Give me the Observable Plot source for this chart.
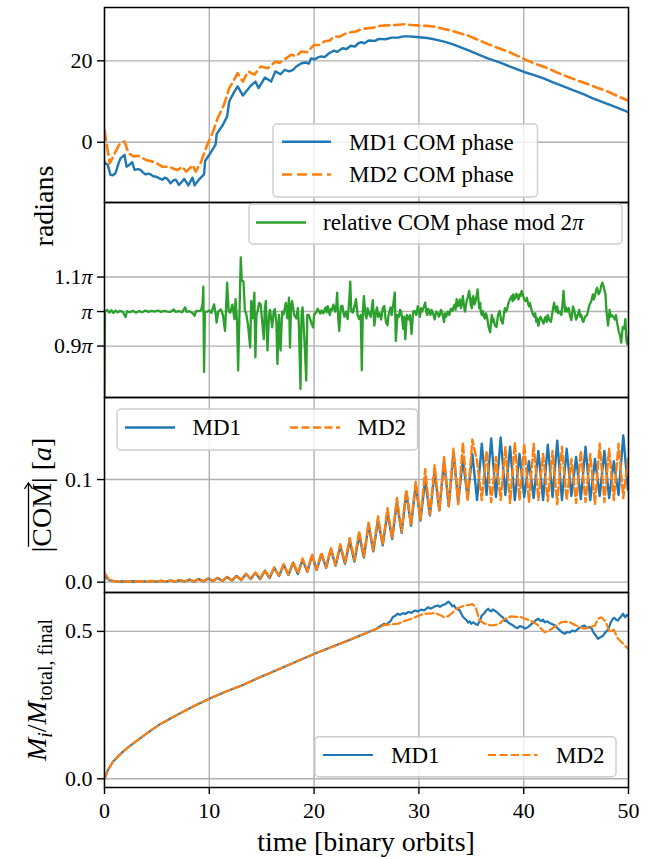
<!DOCTYPE html>
<html><head><meta charset="utf-8">
<script src="https://cdn.jsdelivr.net/npm/d3@7"></script>
<script src="https://cdn.jsdelivr.net/npm/@observablehq/plot@0.6"></script>
<style>
body{margin:0;background:#fff;}
#wrap{position:relative;width:650px;height:859px;background:#fff;}
#wrap svg{position:absolute;left:0;overflow:visible;}
</style></head><body><div id="wrap"></div>
<script>
// ---------------- DATA ----------------
const xTicks = [0, 10, 20, 30, 40, 50];

// Panel 1: COM phase [radians]  ([time, value])
const phaseMD1 = [[0,-4.8],[0.1,-5.2],[0.3,-5.5],[0.57,-8.0],[0.8,-8.1],[1.05,-7.6],[1.3,-5.5],[1.53,-3.9],[1.75,-3.5],[1.91,-3.1],[2.1,-6.0],[2.35,-5.6],[2.64,-4.9],[2.87,-6.8],[3.2,-6.6],[3.44,-6.8],[3.7,-7.5],[3.92,-7.9],[4.2,-7.7],[4.4,-7.9],[4.7,-8.4],[4.9,-8.4],[5.2,-8.8],[5.5,-9.2],[5.75,-8.7],[6.0,-9.0],[6.3,-10.1],[6.55,-9.4],[6.8,-9.2],[7.1,-10.5],[7.35,-9.8],[7.6,-9.0],[8.0,-10.6],[8.4,-8.7],[8.6,-10.6],[9.0,-9.2],[9.5,-7.9],[9.6,-4.6],[10.1,-2.7],[10.6,-0.6],[10.7,2.0],[11.3,4.3],[11.7,6.3],[11.9,10.0],[12.3,12.0],[12.7,13.7],[13.2,11.5],[13.9,13.7],[14.4,14.9],[14.7,13.3],[15.3,15.9],[15.9,14.9],[16.3,17.4],[16.8,16.7],[17.2,17.8],[17.6,17.4],[18.0,17.8],[18.3,18.6],[18.8,19.4],[19.2,19.6],[19.5,19.3],[19.7,20.6],[20.1,20.4],[20.4,20.9],[20.7,21.1],[21.0,20.9],[21.4,21.8],[21.9,22.5],[22.2,22.2],[22.7,23.1],[23.1,22.9],[23.5,23.7],[23.9,23.5],[24.2,24.3],[24.5,24.6],[24.8,24.3],[25.2,25.0],[25.8,24.9],[26.2,25.4],[26.8,25.3],[27.4,25.7],[28.0,25.7],[28.5,26.0],[29.0,26.0],[29.5,25.9],[30.0,25.8],[30.8,25.6],[31.6,25.2],[32.4,24.7],[33.2,24.1],[34.0,23.3],[34.8,22.5],[35.7,21.5],[36.7,20.5],[37.7,19.6],[38.7,18.6],[40.1,17.2],[41.0,16.5],[41.9,15.7],[42.8,14.7],[43.8,13.7],[44.7,12.8],[45.7,11.8],[46.6,10.8],[47.6,9.8],[48.8,8.6],[50,7.4]];
const phaseMD2 = [[0,3.0],[0.5,-5.2],[0.9,-3.1],[1.4,-0.6],[1.9,0.2],[2.3,-2.7],[2.8,-3.5],[3.2,-3.3],[3.6,-3.9],[4.0,-4.4],[4.4,-4.6],[5.0,-5.2],[5.5,-6.0],[6.2,-6.0],[6.6,-6.5],[7.0,-6.8],[7.4,-6.0],[7.8,-7.2],[8.1,-6.5],[8.4,-5.6],[8.7,-7.2],[9.2,-4.9],[9.8,-0.6],[10.3,2.2],[10.8,5.9],[11.4,9.2],[11.9,13.3],[12.3,15.0],[12.7,17.0],[13.2,14.9],[13.7,17.4],[14.3,16.6],[14.9,18.6],[15.6,18.2],[16.3,19.8],[16.7,19.5],[17.1,20.2],[17.8,21.5],[18.3,21.2],[18.8,22.3],[19.3,22.1],[19.7,23.1],[20.0,23.9],[20.5,23.9],[21.0,24.8],[21.5,25.0],[21.9,26.0],[22.4,25.9],[23.0,26.7],[23.5,27.0],[24.0,27.2],[24.5,27.8],[25.1,28.0],[25.6,28.1],[26.3,28.6],[27.0,28.7],[27.8,28.8],[28.6,29.0],[29.3,28.8],[29.9,28.7],[30.7,28.6],[31.5,28.4],[32.3,27.9],[33.1,27.4],[33.9,26.8],[34.7,26.2],[35.6,25.2],[36.6,24.1],[37.5,23.2],[38.5,22.3],[39.5,21.1],[40.4,20.0],[41.3,19.1],[42.3,18.2],[43.2,17.1],[44.2,16.1],[45.1,15.2],[46.1,14.3],[47.0,13.4],[48.0,12.5],[48.9,11.4],[50,10.2]];
const phaseTicks = [0, 20];

// Panel 2: relative COM phase mod 2π, in units of π
const relPhase = [[0,0.75],[0.05,1.0],[0.25,1.005],[0.45,0.997],[0.65,1.004],[0.85,0.996],[1.05,1.003],[1.25,0.998],[1.5,1.002],[1.75,0.999],[2.0,0.984],[2.15,1.001],[2.4,0.998],[2.7,1.002],[3.0,0.997],[3.3,1.001],[3.6,0.998],[3.9,1.003],[4.2,0.999],[4.5,1.002],[4.8,1.0],[5.1,1.003],[5.4,0.999],[5.7,1.002],[6.0,1.0],[6.3,0.999],[6.6,1.006],[6.8,0.999],[7.1,1.001],[7.4,0.998],[7.7,1.012],[7.85,0.999],[8.1,1.001],[8.4,0.996],[8.6,0.988],[8.75,1.002],[9.0,1.001],[9.2,1.003],[9.35,1.02],[9.43,1.072],[9.5,0.825],[9.58,0.998],[9.8,1.0],[10.0,1.003],[10.2,0.996],[10.45,1.021],[10.6,0.995],[10.7,0.968],[10.85,1.0],[11.1,1.006],[11.3,0.99],[11.5,0.944],[11.6,1.01],[11.7,1.084],[11.85,1.0],[12.0,0.997],[12.2,1.02],[12.4,0.978],[12.5,1.036],[12.65,0.97],[12.75,0.829],[12.9,1.02],[13.0,1.157],[13.1,1.09],[13.26,1.088],[13.4,1.0],[13.5,0.998],[13.7,0.96],[13.9,0.896],[14.0,1.031],[14.15,0.98],[14.3,1.055],[14.4,0.867],[14.5,0.99],[14.6,1.0],[14.75,1.025],[14.9,1.021],[15.05,0.97],[15.2,0.92],[15.3,1.01],[15.4,1.031],[15.55,0.887],[15.7,0.99],[15.8,1.005],[16.0,0.954],[16.15,1.0],[16.25,1.007],[16.4,0.97],[16.5,0.848],[16.65,0.99],[16.8,0.887],[16.95,1.0],[17.1,0.992],[17.3,1.025],[17.45,0.98],[17.6,1.04],[17.7,0.896],[17.8,1.02],[17.9,1.03],[18.1,0.99],[18.3,0.98],[18.45,1.01],[18.55,0.96],[18.7,0.776],[18.8,0.99],[18.9,1.012],[19.0,0.96],[19.1,0.904],[19.25,0.80],[19.35,0.99],[19.5,0.99],[19.7,0.97],[19.9,0.954],[20.0,0.99],[20.2,0.998],[20.35,1.008],[20.45,1.002],[20.6,0.994],[20.7,1.003],[20.9,0.995],[21.0,1.006],[21.1,1.012],[21.2,0.998],[21.3,1.016],[21.4,1.002],[21.5,0.99],[21.6,1.008],[21.7,1.005],[21.85,1.02],[22.0,1.0],[22.1,1.01],[22.2,1.055],[22.3,0.98],[22.4,0.944],[22.55,1.015],[22.7,1.017],[22.8,0.996],[22.9,0.985],[23.05,1.0],[23.2,0.978],[23.35,1.03],[23.45,1.087],[23.55,1.0],[23.7,0.997],[23.85,1.015],[24.0,1.036],[24.15,0.99],[24.3,0.978],[24.45,0.99],[24.55,0.83],[24.65,1.0],[24.75,1.045],[24.9,0.99],[25.0,0.98],[25.1,1.01],[25.2,1.0],[25.3,0.99],[25.4,0.985],[25.5,1.01],[25.6,1.033],[25.75,0.959],[25.9,1.0],[26.0,1.012],[26.1,0.985],[26.25,0.995],[26.4,0.977],[26.55,1.01],[26.7,1.016],[26.85,0.97],[27.0,0.96],[27.1,0.99],[27.2,1.0],[27.3,1.012],[27.4,0.99],[27.55,1.02],[27.7,1.055],[27.8,0.915],[27.95,0.99],[28.1,0.985],[28.2,1.005],[28.3,1.0],[28.4,0.98],[28.5,0.95],[28.6,0.985],[28.7,0.92],[28.85,0.99],[29.0,0.977],[29.15,0.99],[29.3,0.935],[29.45,1.0],[29.6,1.002],[29.75,0.99],[29.9,1.016],[30.0,1.0],[30.1,0.985],[30.2,1.01],[30.3,1.0],[30.45,1.012],[30.6,1.026],[30.7,1.0],[30.8,0.99],[30.9,1.008],[31.0,1.0],[31.1,0.99],[31.2,1.005],[31.35,0.995],[31.5,0.977],[31.65,1.0],[31.8,0.995],[31.9,0.985],[32.0,0.99],[32.1,1.005],[32.2,1.0],[32.3,0.985],[32.4,0.97],[32.5,0.995],[32.6,0.985],[32.75,1.0],[32.9,0.99],[33.05,1.008],[33.2,1.002],[33.3,1.012],[33.4,1.02],[33.5,1.005],[33.6,1.036],[33.7,1.015],[33.8,1.02],[33.9,1.035],[34.0,1.01],[34.1,1.025],[34.2,1.045],[34.3,1.015],[34.4,1.0],[34.55,1.03],[34.65,1.04],[34.8,1.06],[34.95,1.02],[35.05,1.01],[35.1,1.038],[35.2,1.045],[35.3,1.02],[35.4,1.03],[35.5,1.045],[35.6,1.064],[35.75,1.01],[35.85,1.025],[35.9,1.0],[36.0,0.99],[36.1,1.002],[36.2,0.985],[36.3,0.98],[36.4,0.995],[36.5,0.985],[36.65,0.955],[36.8,0.94],[36.95,0.99],[37.05,0.97],[37.1,0.98],[37.25,0.96],[37.4,0.955],[37.55,0.99],[37.7,1.002],[37.85,0.975],[38.0,0.965],[38.1,0.99],[38.2,1.01],[38.3,1.0],[38.4,1.005],[38.55,1.025],[38.7,1.036],[38.85,1.045],[38.95,1.03],[39.0,1.05],[39.1,1.035],[39.2,1.04],[39.3,1.052],[39.4,1.045],[39.5,1.035],[39.6,1.05],[39.7,1.045],[39.8,1.06],[39.95,1.045],[40.05,1.035],[40.2,1.03],[40.3,1.04],[40.4,1.026],[40.5,1.015],[40.6,1.025],[40.7,1.01],[40.8,1.0],[40.9,0.99],[41.0,0.985],[41.1,0.995],[41.2,0.97],[41.3,0.98],[41.4,0.959],[41.5,0.975],[41.6,0.985],[41.75,0.975],[41.9,0.965],[42.0,0.98],[42.1,0.985],[42.2,0.97],[42.3,0.99],[42.45,0.975],[42.6,0.97],[42.75,1.0],[42.9,1.026],[43.0,1.01],[43.1,1.0],[43.2,1.015],[43.3,0.995],[43.45,1.0],[43.6,0.99],[43.7,1.02],[43.8,1.06],[43.95,1.0],[44.05,1.012],[44.15,1.0],[44.3,1.01],[44.4,0.99],[44.55,0.975],[44.7,1.015],[44.85,1.0],[45.0,0.977],[45.15,0.99],[45.3,1.005],[45.4,0.985],[45.5,0.99],[45.6,0.975],[45.7,0.97],[45.85,0.985],[46.05,0.99],[46.2,1.01],[46.3,1.021],[46.45,1.03],[46.6,1.05],[46.7,1.035],[46.8,1.045],[46.9,1.06],[47.0,1.069],[47.15,1.05],[47.3,1.06],[47.4,1.075],[47.5,1.084],[47.65,1.07],[47.8,1.05],[47.9,1.0],[48.05,0.959],[48.2,1.005],[48.3,0.985],[48.4,0.99],[48.55,0.985],[48.7,0.977],[48.8,0.99],[48.9,0.97],[49.05,0.945],[49.2,0.93],[49.3,0.91],[49.45,0.955],[49.6,0.95],[49.7,0.978],[49.8,0.915],[49.9,0.905],[50.0,0.925]];
const relTicks = [0.9, 1.0, 1.1];
const relTickLabels = ["0.9π", "π", "1.1π"];

// Panel 3: |COM| [a], sampled every 0.45 orbits
const comStep = 0.45;
const comMD1 = [0.006,0.002,0.001,0.0005,0.0008,0.0005,0.0008,0.0005,0.001,0.0005,0.001,0.0005,0.0012,0.0005,0.0015,0.0005,0.002,0.0005,0.0025,0.0005,0.003,0.0008,0.0035,0.001,0.004,0.001,0.005,0.0015,0.006,0.002,0.008,0.003,0.009,0.003,0.011,0.004,0.014,0.006,0.017,0.007,0.019,0.008,0.022,0.01,0.026,0.012,0.027,0.014,0.032,0.016,0.035,0.018,0.04,0.02,0.046,0.024,0.056,0.03,0.06,0.036,0.068,0.042,0.078,0.048,0.088,0.055,0.095,0.06,0.1,0.065,0.108,0.07,0.118,0.074,0.127,0.078,0.12,0.082,0.125,0.08,0.135,0.085,0.14,0.083,0.141,0.085,0.132,0.08,0.125,0.083,0.118,0.082,0.128,0.08,0.134,0.083,0.138,0.08,0.13,0.084,0.122,0.081,0.132,0.08,0.12,0.084,0.128,0.082,0.118,0.085,0.143,0.09];
const comMD2 = [0.009,0.002,0.001,0.0005,0.0008,0.0005,0.0009,0.0005,0.001,0.0005,0.0011,0.0005,0.0013,0.0005,0.0016,0.0006,0.0022,0.0006,0.0027,0.0007,0.0032,0.0009,0.0037,0.0011,0.0043,0.0012,0.0053,0.0016,0.0065,0.0022,0.0082,0.0032,0.0095,0.0035,0.0118,0.0045,0.0145,0.0062,0.0175,0.0072,0.0198,0.0085,0.023,0.0105,0.027,0.0125,0.029,0.0145,0.0335,0.0165,0.037,0.019,0.043,0.021,0.05,0.025,0.058,0.031,0.064,0.037,0.072,0.043,0.082,0.049,0.09,0.056,0.098,0.061,0.11,0.066,0.114,0.07,0.122,0.074,0.13,0.076,0.136,0.079,0.139,0.118,0.08,0.128,0.078,0.122,0.08,0.132,0.077,0.136,0.08,0.135,0.078,0.135,0.08,0.125,0.079,0.128,0.076,0.132,0.08,0.12,0.077,0.128,0.078,0.125,0.076,0.135,0.078,0.13,0.08,0.135,0.082,0.12];
const comTicks = [0.0, 0.1];

// Panel 4: M_i / M_total,final
const massEarly = [[0,0.0],[0.33,0.03],[0.8,0.058],[1.6,0.087],[2.4,0.111],[3.2,0.132],[4.2,0.158],[5.2,0.183],[6.2,0.203],[7.2,0.222],[8.6,0.248],[10.1,0.273],[11.6,0.296],[13.2,0.318],[14.5,0.339],[15.9,0.361],[18.0,0.393],[20.1,0.425],[21.6,0.446],[23.1,0.467],[24.8,0.492],[25.9,0.508]];
const massMD1Late = [[26.7,0.526],[26.9,0.522],[27.1,0.53],[27.3,0.535],[27.5,0.548],[27.7,0.552],[28.0,0.56],[28.2,0.556],[28.5,0.562],[28.7,0.559],[29.0,0.566],[29.3,0.563],[29.6,0.571],[29.9,0.568],[30.2,0.574],[30.5,0.571],[30.9,0.582],[31.1,0.577],[31.3,0.58],[31.5,0.585],[31.8,0.588],[32.0,0.583],[32.3,0.59],[32.5,0.592],[32.8,0.601],[33.0,0.595],[33.2,0.585],[33.35,0.588],[33.5,0.58],[33.7,0.575],[33.9,0.571],[34.05,0.56],[34.2,0.55],[34.4,0.543],[34.55,0.538],[34.7,0.53],[34.85,0.534],[35.0,0.526],[35.15,0.531],[35.3,0.528],[35.45,0.524],[35.6,0.522],[35.8,0.535],[36.0,0.554],[36.15,0.558],[36.3,0.565],[36.45,0.572],[36.6,0.577],[36.75,0.571],[36.9,0.568],[37.05,0.575],[37.2,0.571],[37.4,0.566],[37.6,0.56],[37.8,0.553],[38.0,0.548],[38.2,0.535],[38.35,0.538],[38.5,0.531],[38.75,0.525],[39.0,0.52],[39.2,0.514],[39.4,0.511],[39.65,0.518],[39.9,0.515],[40.15,0.51],[40.4,0.514],[40.65,0.522],[40.9,0.53],[41.15,0.538],[41.4,0.543],[41.55,0.537],[41.7,0.535],[41.85,0.54],[42.0,0.531],[42.25,0.534],[42.5,0.528],[42.75,0.524],[43.0,0.52],[43.2,0.512],[43.4,0.505],[43.65,0.497],[43.9,0.492],[44.15,0.498],[44.4,0.497],[44.65,0.503],[44.9,0.5],[45.1,0.506],[45.3,0.512],[45.55,0.517],[45.8,0.52],[45.95,0.514],[46.1,0.512],[46.3,0.515],[46.5,0.509],[46.65,0.497],[46.8,0.49],[46.95,0.482],[47.1,0.475],[47.3,0.48],[47.45,0.483],[47.6,0.486],[47.75,0.495],[47.9,0.5],[48.1,0.509],[48.2,0.52],[48.3,0.53],[48.4,0.536],[48.5,0.543],[48.65,0.546],[48.8,0.54],[49.0,0.537],[49.15,0.545],[49.3,0.55],[49.4,0.556],[49.5,0.56],[49.6,0.552],[49.7,0.548],[49.85,0.556],[50,0.552]];
const massMD2Late = [[26.7,0.522],[27.3,0.524],[28.0,0.526],[28.6,0.535],[29.3,0.543],[29.9,0.552],[30.5,0.56],[31.0,0.56],[31.5,0.563],[32.0,0.556],[32.4,0.548],[32.8,0.552],[33.1,0.56],[33.6,0.577],[34.0,0.583],[34.4,0.588],[34.8,0.59],[35.1,0.593],[35.4,0.582],[35.6,0.56],[35.8,0.537],[36.3,0.526],[36.9,0.52],[37.3,0.522],[37.7,0.526],[38.2,0.543],[38.8,0.551],[39.3,0.549],[39.8,0.548],[40.2,0.542],[40.6,0.537],[41.0,0.53],[41.4,0.52],[41.7,0.508],[42.0,0.497],[42.4,0.503],[42.7,0.509],[43.2,0.522],[43.6,0.531],[44.0,0.533],[44.4,0.531],[45.0,0.52],[45.4,0.515],[45.8,0.509],[46.3,0.514],[46.8,0.52],[47.1,0.543],[47.4,0.548],[47.7,0.538],[47.9,0.526],[48.2,0.497],[48.6,0.506],[48.8,0.49],[49.0,0.475],[49.3,0.465],[49.5,0.458],[49.8,0.447],[50,0.44]];
const massTicks = [0.0, 0.5];

// ---------------- DRAWING ----------------
const FONT = '"Liberation Serif", "DejaVu Serif", serif';
const BLUE = "#1f77b4", ORANGE = "#ff7f0e", GREEN = "#2ca02c", GRID = "#b0b0b0";
const W = 650, ML = 104, MR = 22, PH = 195;
const TICK_FS = 22, LEG_FS = 23, LAB_FS = 28;
const wrap = document.getElementById("wrap");

const toObj = arr => arr.map(([t, v]) => ({t, v}));
const sampled = (vals, step) => vals.map((v, i) => ({t: i * step, v}));

function panel({top, domain, ticks, tickFormat, marks, xAxis = false}) {
  const mb = xAxis ? 72 : 2;
  const p = Plot.plot({
    width: W, height: PH + 2 + mb,
    marginLeft: ML, marginRight: MR, marginTop: 2, marginBottom: mb,
    style: {fontFamily: FONT, fontSize: TICK_FS + "px", color: "#000", background: "transparent", overflow: "visible"},
    x: {domain: [0, 50], axis: null},
    y: {domain, axis: null},
    marks: [
      Plot.gridX(xTicks, {stroke: GRID, strokeOpacity: 1, strokeWidth: 1.4}),
      Plot.gridY(ticks, {stroke: GRID, strokeOpacity: 1, strokeWidth: 1.4}),
      ...marks,
      Plot.frame({stroke: "#000", strokeWidth: 1.5}),
      Plot.axisY(ticks, {tickSize: 7, tickPadding: 5, tickFormat, fontSize: TICK_FS, label: null, strokeWidth: 1.4}),
      ...(xAxis ? [Plot.axisX(xTicks, {tickSize: 7, tickPadding: 8, fontSize: TICK_FS, label: null, strokeWidth: 1.4})] : [])
    ]
  });
  p.style.top = (top - 2) + "px";
  wrap.append(p);
  return p;
}

// Panel 1
panel({
  top: 6.5, domain: [-14.8, 33.1], ticks: phaseTicks, tickFormat: d => String(d),
  marks: [
    Plot.line(toObj(phaseMD1), {x: "t", y: "v", stroke: BLUE, strokeWidth: 2.4, clip: true}),
    Plot.line(toObj(phaseMD2), {x: "t", y: "v", stroke: ORANGE, strokeWidth: 2.6, strokeDasharray: "10,5", clip: true})
  ]
});
// Panel 2
const p2 = panel({
  top: 201.7, domain: [0.751, 1.316], ticks: relTicks, tickFormat: d => relTickLabels[relTicks.indexOf(d)],
  marks: [
    Plot.line(toObj(relPhase), {x: "t", y: "v", stroke: GREEN, strokeWidth: 2.3, clip: true})
  ]
});
// italic π in tick labels
p2.querySelectorAll("text").forEach(t => {
  if (t.textContent.includes("π")) t.innerHTML = t.textContent.replace("π", '<tspan font-style="italic">π</tspan>');
});
// Panel 3
panel({
  top: 396.9, domain: [-0.0101, 0.180], ticks: comTicks, tickFormat: d => d.toFixed(1),
  marks: [
    Plot.line(sampled(comMD1, comStep), {x: "t", y: "v", stroke: BLUE, strokeWidth: 2.4, clip: true}),
    Plot.line(sampled(comMD2, comStep), {x: "t", y: "v", stroke: ORANGE, strokeWidth: 2.4, strokeDasharray: "8,3.5", clip: true})
  ]
});
// Panel 4
panel({
  top: 592.4, domain: [-0.0295, 0.632], ticks: massTicks, tickFormat: d => d.toFixed(1), xAxis: true,
  marks: [
    Plot.line(toObj(massEarly.concat(massMD1Late)), {x: "t", y: "v", stroke: BLUE, strokeWidth: 2.2, clip: true}),
    Plot.line(toObj(massEarly.concat(massMD2Late)), {x: "t", y: "v", stroke: ORANGE, strokeWidth: 2.2, strokeDasharray: "8,3.5", clip: true})
  ]
});

// ---------------- OVERLAY: legends and axis labels ----------------
const NS = "http://www.w3.org/2000/svg";
const ov = document.createElementNS(NS, "svg");
ov.setAttribute("width", W); ov.setAttribute("height", 859);
ov.style.top = "0px";
ov.style.fontFamily = FONT;
wrap.append(ov);
function el(tag, attrs, parent = ov) {
  const e = document.createElementNS(NS, tag);
  for (const k in attrs) if (attrs[k] != null) e.setAttribute(k, attrs[k]);
  parent.append(e);
  return e;
}
function legend(box, items) {
  el("rect", {x: box[0], y: box[1], width: box[2] - box[0], height: box[3] - box[1], rx: 4, fill: "#fff", "fill-opacity": 0.8, stroke: "#cccccc", "stroke-width": 1.4});
  for (const it of items) {
    el("line", {x1: it.x1, x2: it.x2, y1: it.y, y2: it.y, stroke: it.color, "stroke-width": it.w, "stroke-dasharray": it.dash});
    const t = el("text", {x: it.tx, y: it.y, dy: "0.34em", "font-size": LEG_FS, fill: "#000"});
    t.innerHTML = it.label;
  }
}
legend([273, 124, 537.5, 197], [
  {x1: 282, x2: 331, y: 141.7, color: BLUE, w: 2.4, tx: 349, label: "MD1 COM phase"},
  {x1: 282, x2: 331, y: 174.5, color: ORANGE, w: 2.6, dash: "10,5", tx: 349, label: "MD2 COM phase"}
]);
legend([249, 204, 622, 244], [
  {x1: 256, x2: 306, y: 222.5, color: GREEN, w: 2.3, tx: 323, label: 'relative COM phase mod 2<tspan font-style="italic">π</tspan>'}
]);
legend([117, 409, 417.5, 450], [
  {x1: 125, x2: 175, y: 427.5, color: BLUE, w: 2.4, tx: 192.5, label: "MD1"},
  {x1: 290, x2: 340, y: 427.5, color: ORANGE, w: 2.4, dash: "8,3.5", tx: 357.5, label: "MD2"}
]);
legend([315, 736.7, 616, 776.7], [
  {x1: 323, x2: 373, y: 755, color: BLUE, w: 2.2, tx: 391, label: "MD1"},
  {x1: 488, x2: 537.5, y: 755, color: ORANGE, w: 2.2, dash: "8,3.5", tx: 556, label: "MD2"}
]);

// y labels
el("text", {transform: "translate(53,206) rotate(-90)", "text-anchor": "middle", "font-size": LAB_FS}).textContent = "radians";

const gCom = el("g", {transform: "translate(51,495) rotate(-90)"});
const comText = el("text", {"text-anchor": "middle", "font-size": LAB_FS}, gCom);
comText.innerHTML = '|COM| [<tspan font-style="italic">a</tspan>]';
{
  const x0 = comText.getStartPositionOfChar(1).x, x1 = comText.getEndPositionOfChar(3).x;
  const yl = -22.5;
  el("line", {x1: x0, x2: x1, y1: yl, y2: yl, stroke: "#000", "stroke-width": 1.3}, gCom);
  el("path", {d: `M${x1 - 6},${yl - 4} L${x1},${yl} L${x1 - 6},${yl + 4}`, fill: "none", stroke: "#000", "stroke-width": 1.3}, gCom);
}

const mText = el("text", {transform: "translate(46,690) rotate(-90)", "text-anchor": "middle", "font-size": LAB_FS});
mText.innerHTML = '<tspan font-style="italic">M</tspan><tspan font-size="20" font-style="italic" dy="6">i</tspan><tspan dy="-6">/</tspan><tspan font-style="italic">M</tspan><tspan font-size="20" dy="6">total, final</tspan>';

// x label
el("text", {x: 366, y: 851, "text-anchor": "middle", "font-size": LAB_FS}).textContent = "time [binary orbits]";
</script></body></html>
